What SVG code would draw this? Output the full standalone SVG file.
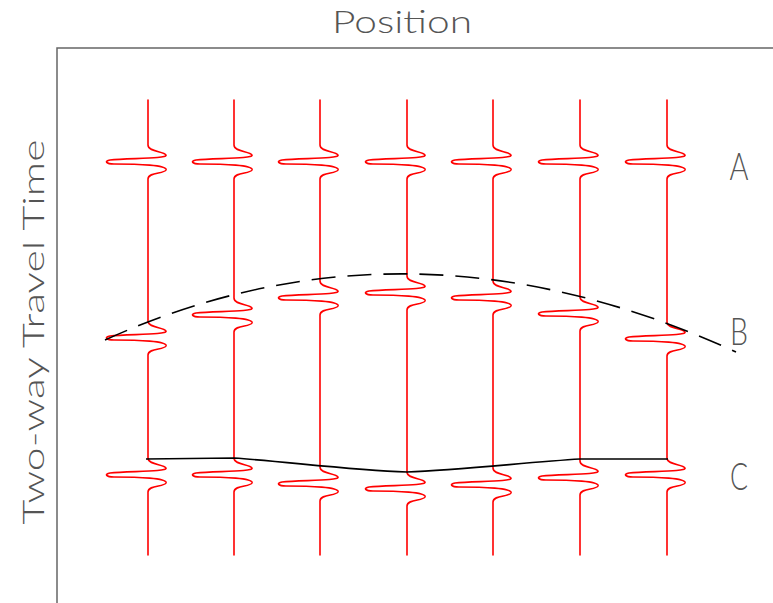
<svg xmlns="http://www.w3.org/2000/svg" width="773" height="603" viewBox="0 0 773 603">
  <style>
    .frame { fill: none; stroke: #666; stroke-width: 1.5; }
    .trace { fill: none; stroke: #ff0000; stroke-width: 1.6; stroke-linejoin: round; stroke-linecap: round; }
    .horizon { fill: none; stroke: #000; stroke-width: 1.6; }
    .dashed { stroke-dasharray: 24 12; }
    .lbl { font-family: Lato, "Liberation Sans", sans-serif; font-weight: 300; fill: #555; }
  </style>
  <rect width="773" height="603" fill="#fff"/>

  <!-- axes frame -->
  <path class="frame" d="M57,603 V48 H773"/>

  <!-- axis titles -->
  <text id="title-position" class="lbl" x="402" y="33" font-size="31" text-anchor="middle" textLength="140" lengthAdjust="spacingAndGlyphs">Position</text>
  <text id="title-time" class="lbl" transform="translate(44,332) rotate(-90)" font-size="30" text-anchor="middle" textLength="385" lengthAdjust="spacingAndGlyphs">Two-way Travel Time</text>

  <!-- seismic traces: vertical line with a wavelet at each reflector (A, B, C) -->
  <g id="traces">
    <path id="trace-1" class="trace" d="M148,100 L148,145 c0,7 16,6 18,10 c2,4 -38,3 -56,5 c-6,1 -4,4 4,4 c24,0 54,1 52,6 c-2,4 -18,2 -18,9 L148,321 c0,7 16,6 18,10 c2,4 -38,3 -56,5 c-6,1 -4,4 4,4 c24,0 54,1 52,6 c-2,4 -18,2 -18,9 L148,458 c0,7 16,6 18,10 c2,4 -38,3 -56,5 c-6,1 -4,4 4,4 c24,0 54,1 52,6 c-2,4 -18,2 -18,9 L148,555"/>
    <path id="trace-2" class="trace" d="M234,100 L234,145 c0,7 16,6 18,10 c2,4 -38,3 -56,5 c-6,1 -4,4 4,4 c24,0 54,1 52,6 c-2,4 -18,2 -18,9 L234,298 c0,7 16,6 18,10 c2,4 -38,3 -56,5 c-6,1 -4,4 4,4 c24,0 54,1 52,6 c-2,4 -18,2 -18,9 L234,458 c0,7 16,6 18,10 c2,4 -38,3 -56,5 c-6,1 -4,4 4,4 c24,0 54,1 52,6 c-2,4 -18,2 -18,9 L234,555"/>
    <path id="trace-3" class="trace" d="M320,100 L320,145 c0,7 16,6 18,10 c2,4 -38,3 -56,5 c-6,1 -4,4 4,4 c24,0 54,1 52,6 c-2,4 -18,2 -18,9 L320,281 c0,7 16,6 18,10 c2,4 -38,3 -56,5 c-6,1 -4,4 4,4 c24,0 54,1 52,6 c-2,4 -18,2 -18,9 L320,467 c0,7 16,6 18,10 c2,4 -38,3 -56,5 c-6,1 -4,4 4,4 c24,0 54,1 52,6 c-2,4 -18,2 -18,9 L320,555"/>
    <path id="trace-4" class="trace" d="M407,100 L407,145 c0,7 16,6 18,10 c2,4 -38,3 -56,5 c-6,1 -4,4 4,4 c24,0 54,1 52,6 c-2,4 -18,2 -18,9 L407,276 c0,7 16,6 18,10 c2,4 -38,3 -56,5 c-6,1 -4,4 4,4 c24,0 54,1 52,6 c-2,4 -18,2 -18,9 L407,472 c0,7 16,6 18,10 c2,4 -38,3 -56,5 c-6,1 -4,4 4,4 c24,0 54,1 52,6 c-2,4 -18,2 -18,9 L407,555"/>
    <path id="trace-5" class="trace" d="M493,100 L493,145 c0,7 16,6 18,10 c2,4 -38,3 -56,5 c-6,1 -4,4 4,4 c24,0 54,1 52,6 c-2,4 -18,2 -18,9 L493,281 c0,7 16,6 18,10 c2,4 -38,3 -56,5 c-6,1 -4,4 4,4 c24,0 54,1 52,6 c-2,4 -18,2 -18,9 L493,468 c0,7 16,6 18,10 c2,4 -38,3 -56,5 c-6,1 -4,4 4,4 c24,0 54,1 52,6 c-2,4 -18,2 -18,9 L493,555"/>
    <path id="trace-6" class="trace" d="M580,100 L580,145 c0,7 16,6 18,10 c2,4 -38,3 -56,5 c-6,1 -4,4 4,4 c24,0 54,1 52,6 c-2,4 -18,2 -18,9 L580,297 c0,7 16,6 18,10 c2,4 -38,3 -56,5 c-6,1 -4,4 4,4 c24,0 54,1 52,6 c-2,4 -18,2 -18,9 L580,461 c0,7 16,6 18,10 c2,4 -38,3 -56,5 c-6,1 -4,4 4,4 c24,0 54,1 52,6 c-2,4 -18,2 -18,9 L580,555"/>
    <path id="trace-7" class="trace" d="M667,100 L667,145 c0,7 16,6 18,10 c2,4 -38,3 -56,5 c-6,1 -4,4 4,4 c24,0 54,1 52,6 c-2,4 -18,2 -18,9 L667,322 c0,7 16,6 18,10 c2,4 -38,3 -56,5 c-6,1 -4,4 4,4 c24,0 54,1 52,6 c-2,4 -18,2 -18,9 L667,458 c0,7 16,6 18,10 c2,4 -38,3 -56,5 c-6,1 -4,4 4,4 c24,0 54,1 52,6 c-2,4 -18,2 -18,9 L667,555"/>
  </g>

  <!-- picked horizons -->
  <g id="horizons">
    <path id="horizon-b" class="horizon dashed" d="M105,340 Q409,202 736,352"/>
    <path id="horizon-c" class="horizon" d="M146,459 L234,458 C290,462 350,470 407,472 C460,470 530,462 580,459 L668,459"/>
  </g>

  <!-- reflector labels -->
  <g id="label-a"><text class="lbl" x="739" y="180" font-size="37" text-anchor="middle" textLength="19" lengthAdjust="spacingAndGlyphs">A</text></g>
  <g id="label-b"><text class="lbl" x="739" y="345" font-size="37" text-anchor="middle" textLength="18" lengthAdjust="spacingAndGlyphs">B</text></g>
  <g id="label-c"><text class="lbl" x="739" y="490" font-size="37" text-anchor="middle" textLength="18" lengthAdjust="spacingAndGlyphs">C</text></g>
</svg>
